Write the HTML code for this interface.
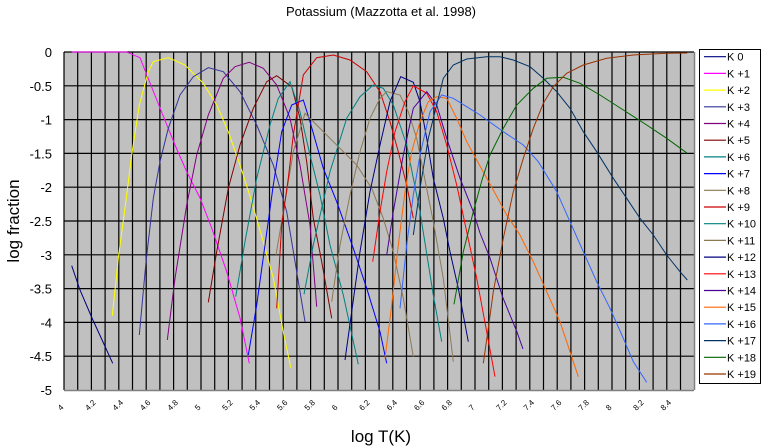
<!DOCTYPE html>
<html><head><meta charset="utf-8"><style>
html,body{margin:0;padding:0;background:#fff;}
svg{display:block;font-family:"Liberation Sans",sans-serif;}
</style></head><body>
<svg width="762" height="448" viewBox="0 0 762 448" xmlns="http://www.w3.org/2000/svg">
<text x="381" y="16" font-size="13" text-anchor="middle">Potassium (Mazzotta et al. 1998)</text>
<rect x="64" y="52" width="630" height="338" fill="#c0c0c0"/>
<g stroke="#000" stroke-width="1.2" id="grid"></g>
<line x1="64" y1="390.5" x2="694" y2="390.5" stroke="#808080" stroke-width="1.5"/>
<line x1="694.5" y1="52" x2="694.5" y2="390" stroke="#808080" stroke-width="1.5"/>
<g font-size="13" text-anchor="end" id="ylab"></g>
<g font-size="8" id="xlab"></g>
<text x="381" y="442" font-size="17" text-anchor="middle">log T(K)</text>
<text transform="translate(19,221) rotate(-90)" font-size="17" text-anchor="middle">log fraction</text>
<g fill="none" stroke-width="1" id="curves"></g>
<rect x="699.5" y="49.5" width="61" height="334" fill="#fff" stroke="#000"/>
<g font-size="11" id="leg"></g>
</svg>
<script>
var NS="http://www.w3.org/2000/svg";
function el(p,t,a,txt){var e=document.createElementNS(NS,t);for(var k in a)e.setAttribute(k,a[k]);if(txt!==undefined)e.textContent=txt;p.appendChild(e);return e;}
var g=document.getElementById('grid');
for(var i=0;i<=45;i++){var x=64+13.7*i;el(g,'line',{x1:x,y1:52,x2:x,y2:390});}
for(var j=0;j<10;j++){var y=52+33.8*j;el(g,'line',{x1:64,y1:y,x2:694,y2:y});}
var yl=document.getElementById('ylab');
for(var j=0;j<=10;j++){var v=-j*0.5;el(yl,'text',{x:52,y:52+33.8*j+5},v==0?'0':String(v));}
var xl=document.getElementById('xlab');
for(var i=0;i<=22;i++){var t=4+0.2*i;var x=64+137*(t-4);var s=(Math.round(t*10)/10).toString();
el(xl,'text',{transform:'translate('+(x-3)+',411) rotate(-45)'},s);}
var C=[
['#000080',[[71.7,265.7],[80,290],[92,318],[103,342],[112.7,363.3]]],
['#ff00ff',[[71.7,52],[126.7,52],[140,57.7],[160,108],[175,145],[186.7,171.7],[200,198],[211.7,228],[226.7,271.7],[240,318],[249.3,363.3]]],
['#ffff00',[[112.3,315.7],[118.3,258.3],[126.7,195],[131.7,155],[139.3,105],[148.3,71.7],[153.3,61.7],[168.3,57.7],[185,65],[203.3,83.3],[216.7,105],[228.3,131.7],[240,165],[251.7,201.7],[263.3,241.7],[273.3,278.3],[283.3,331.7],[290.7,367.7]]],
['#333399',[[139.3,335],[146,261.7],[153.3,198.3],[160,161.7],[168.3,128.3],[180,95],[193.3,76.7],[208.3,67.7],[223.3,71.7],[240,91.7],[256.7,125],[273.3,165],[286.7,211.7],[296.7,271.7],[305,321.7]]],
['#800080',[[167.3,340],[175,278.3],[186.7,205],[196.7,155],[208.3,115],[223.3,78.3],[235,66.7],[249.3,62.3],[263.3,68.3],[276.7,85],[290,118.3],[300,165],[310,225],[316.7,306.7]]],
['#800000',[[208.3,302.3],[216.7,251.7],[228.3,188.3],[240,145],[253.3,108.3],[266.7,81.7],[276.7,75.7],[291.7,86.7],[300,118.3],[306.7,161.7],[313.3,218.3],[321.7,261.7],[331.7,318.3]]],
['#008080',[[235.7,296.7],[245,241.7],[256.7,178.3],[270,125],[278.3,98.3],[290,81.7],[300,111.7],[310,155],[320,195],[330,245],[343.3,295],[358.3,364.3]]],
['#0000ff',[[248.3,355],[256.7,305],[265,245],[273.3,185],[281.7,131.7],[291.7,105],[303.3,100],[310,121.7],[323.3,168.3],[336.7,201.7],[353.3,248.3],[366.7,288.3],[380,331.7],[386.7,363.3]]],
['#8c7853',[[276,255],[283.3,211.7],[293.3,151.7],[305,113.3],[323.3,131.7],[340,148.3],[356.7,165],[371.7,188.3],[383.3,218.3],[393.3,251.7],[403.3,298.3],[413.3,356.7]]],
['#cc0000',[[276.7,308.3],[281.7,225],[288.3,178.3],[293.3,135],[298.3,105],[303.3,75],[316.7,57.7],[333.3,55],[350,60],[366.7,71.7],[380,91.7],[390,121.7],[398.3,151.7],[406.7,185],[413.3,218.3]]],
['#008080',[[304,294.3],[313.3,245],[330,171.7],[346.7,118.3],[360,96.7],[373.3,85],[383.3,88.3],[393.3,105],[406.7,145],[420,211.7],[433.3,295],[441.7,341.7]]],
['#8c7853',[[331.7,301.7],[340,245],[350,195],[360,151.7],[370,118.3],[380,98.3],[386.7,91.7],[400,95],[408.3,111.7],[416.7,138.3],[423.3,171.7],[433.3,221.7],[443.3,278.3],[453.3,361.7]]],
['#000080',[[345,360],[351.7,311.7],[360,251.7],[370,191.7],[380,145],[390,101.7],[400.7,76.7],[413.3,82.3],[420,101.7],[426.7,138.3],[433.3,178.3],[443.3,218.3],[450,251.7],[458.3,288.3],[468.3,341.7]]],
['#ff0000',[[372.7,261.7],[380,211.7],[386.7,171.7],[395,131.7],[405,101.7],[413.3,85.7],[426.7,93.3],[436.7,111.7],[446.7,145],[456.7,185],[466.7,231.7],[476.7,278.3],[486.7,331.7],[495,376.7]]],
['#4b0099',[[386.7,255],[393.3,211.7],[403.3,155],[413.3,108.3],[426.7,91.7],[436.7,105],[446.7,138.3],[460,178.3],[473.3,211.7],[480,233],[490,258],[503,298],[517,332],[523,349]]],
['#ff6600',[[385,358.3],[391.7,305],[398.3,245],[405,191.7],[411.7,151.7],[420,121.7],[428.3,101.7],[436.7,96.7],[446.7,98.3],[456.7,118.3],[466.7,141.7],[480,166],[493.3,190],[506.7,215],[520,235],[533.3,261.7],[546.7,291.7],[560,321.7],[570,351.7],[578.3,376.7]]],
['#3366ff',[[400,308.3],[406.7,245],[413.3,195],[420,155],[430,111.7],[441.7,95],[453.3,98.3],[466.7,106.7],[480,115],[503.3,131.7],[523.3,145],[538.3,161.7],[556.7,191.7],[570,221.7],[583.3,251.7],[596.7,281.7],[610,308.3],[623.3,338.3],[633.3,361.7],[646.7,382.3]]],
['#003366',[[413.3,235],[420,188.3],[428.3,138.3],[436.7,105],[443.3,78.3],[453.3,65],[466.7,59],[486.7,56.7],[500,56.7],[513.3,60],[530,66.7],[543.3,78.3],[556.7,91.7],[570,108.3],[583.3,131.7],[596.7,151.7],[613.3,178.3],[626.7,198.3],[640,218.3],[653.3,235],[666.7,255],[680,271.7],[687.3,280]]],
['#006600',[[454,304.3],[463.3,251.7],[473.3,211.7],[482,180],[490,155],[503.3,128.3],[516.7,105],[533.3,88.3],[546.7,78.3],[563.3,77.3],[580,83.3],[600,95],[623.3,110],[646.7,125],[666.7,138.3],[687.3,153.3]]],
['#993300',[[483.3,363.3],[488.3,328.3],[493.3,291.7],[503.3,238.3],[513.3,191.7],[523.3,158.3],[533.3,128.3],[543.3,103.3],[553.3,86.7],[566.7,73.3],[583.3,65],[606.7,58.3],[633.3,55],[666.7,53.3],[687.3,53]]]
];
var cg=document.getElementById('curves'),lg=document.getElementById('leg');
C.forEach(function(c,i){el(cg,'polyline',{points:c[1].map(function(p){return p.join(',')}).join(' '),stroke:c[0]});
var y=56.7+16.7*i;el(lg,'line',{x1:704,y1:y,x2:726,y2:y,stroke:c[0],'stroke-width':1.2});
el(lg,'text',{x:727,y:y+4},i==0?'K  0':'K +'+i);});
</script>
</body></html>
